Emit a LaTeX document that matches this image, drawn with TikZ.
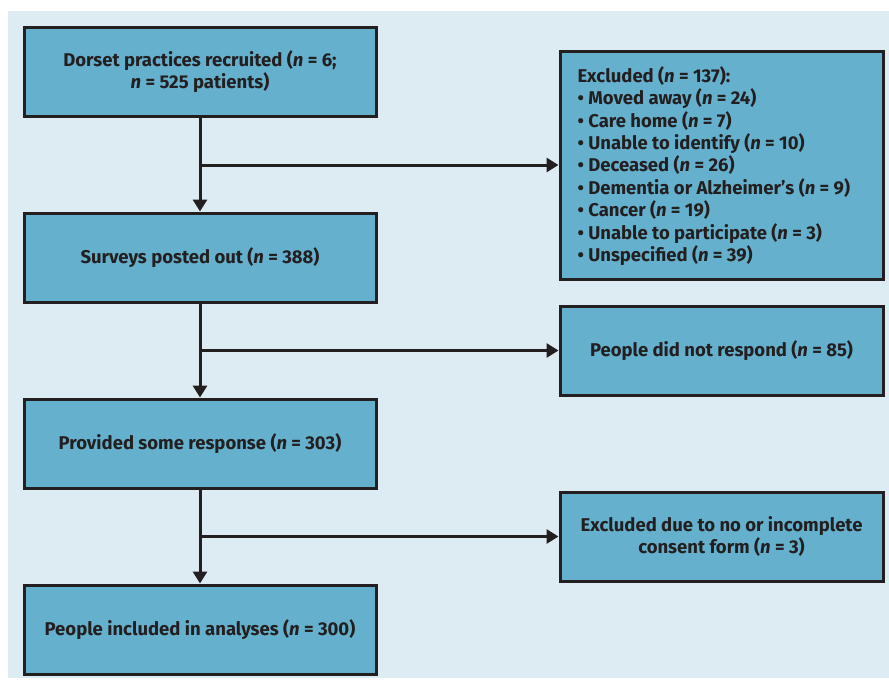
\documentclass[tikz,border=0pt]{standalone}
\usepackage{fontspec}
\setmainfont{Fira Sans}
\usetikzlibrary{arrows.meta}
\definecolor{bgblue}{HTML}{DDEBF3}
\definecolor{boxblue}{HTML}{65B1CD}
\definecolor{ink}{HTML}{231F20}
\begin{document}
\begin{tikzpicture}[x=1pt,y=-1pt,
  fbox/.style={draw=ink,line width=3pt,fill=boxblue,text=ink,font=\fontsize{18.5}{22.4}\selectfont\bfseries,align=center,inner sep=0pt},
  conn/.style={draw=ink,line width=3pt,-{Triangle[length=12pt,width=14pt]}},
  plain/.style={draw=ink,line width=3pt}]
\useasboundingbox (0,0) rectangle (889,680);
\fill[bgblue] (8,11) rectangle (889,678);
% left column boxes
\node[fbox,minimum width=352pt,minimum height=89pt] (b1) at (200,71.5) {Dorset practices recruited (\textit{n} = 6;\\\textit{n} = 525 patients)};
\node[fbox,minimum width=352pt,minimum height=89pt] (b2) at (200,257.5) {Surveys posted out (\textit{n} = 388)};
\node[fbox,minimum width=352pt,minimum height=89pt] (b3) at (200,443.5) {Provided some response (\textit{n} = 303)};
\node[fbox,minimum width=352pt,minimum height=89pt] (b4) at (200,629.5) {People included in analyses (\textit{n} = 300)};
% right column boxes
\node[fbox,minimum width=323pt,minimum height=228pt] (e1) at (721.5,165) {};
\node[fbox,draw=none,fill=none,align=left,anchor=west] (e1t) at (576,166) {Excluded (\textit{n} = 137):\\
\textbullet{} Moved away (\textit{n} = 24)\\
\textbullet{} Care home (\textit{n} = 7)\\
\textbullet{} Unable to identify (\textit{n} = 10)\\
\textbullet{} Deceased (\textit{n} = 26)\\
\textbullet{} Dementia or Alzheimer’s (\textit{n} = 9)\\
\textbullet{} Cancer (\textit{n} = 19)\\
\textbullet{} Unable to participate (\textit{n} = 3)\\
\textbullet{} Unspecified (\textit{n} = 39)};
\node[fbox,minimum width=323pt,minimum height=89pt] (e2) at (721.5,350.5) {People did not respond (\textit{n} = 85)};
\node[fbox,minimum width=323pt,minimum height=89pt] (e3) at (721.5,536.5) {Excluded due to no or incomplete\\consent form (\textit{n} = 3)};
% connectors
\coordinate (j1) at (b1.south |- e1.west);
\coordinate (j2) at (b2.south |- e2.west);
\coordinate (j3) at (b3.south |- e3.west);
\draw[conn] (b1.south) -- (b2.north);
\draw[conn] (b2.south) -- (b3.north);
\draw[conn] (b3.south) -- (b4.north);
\draw[conn] (j1) -- (e1.west);
\draw[conn] (j2) -- (e2.west);
\draw[conn] (j3) -- (e3.west);
\end{tikzpicture}
\end{document}
